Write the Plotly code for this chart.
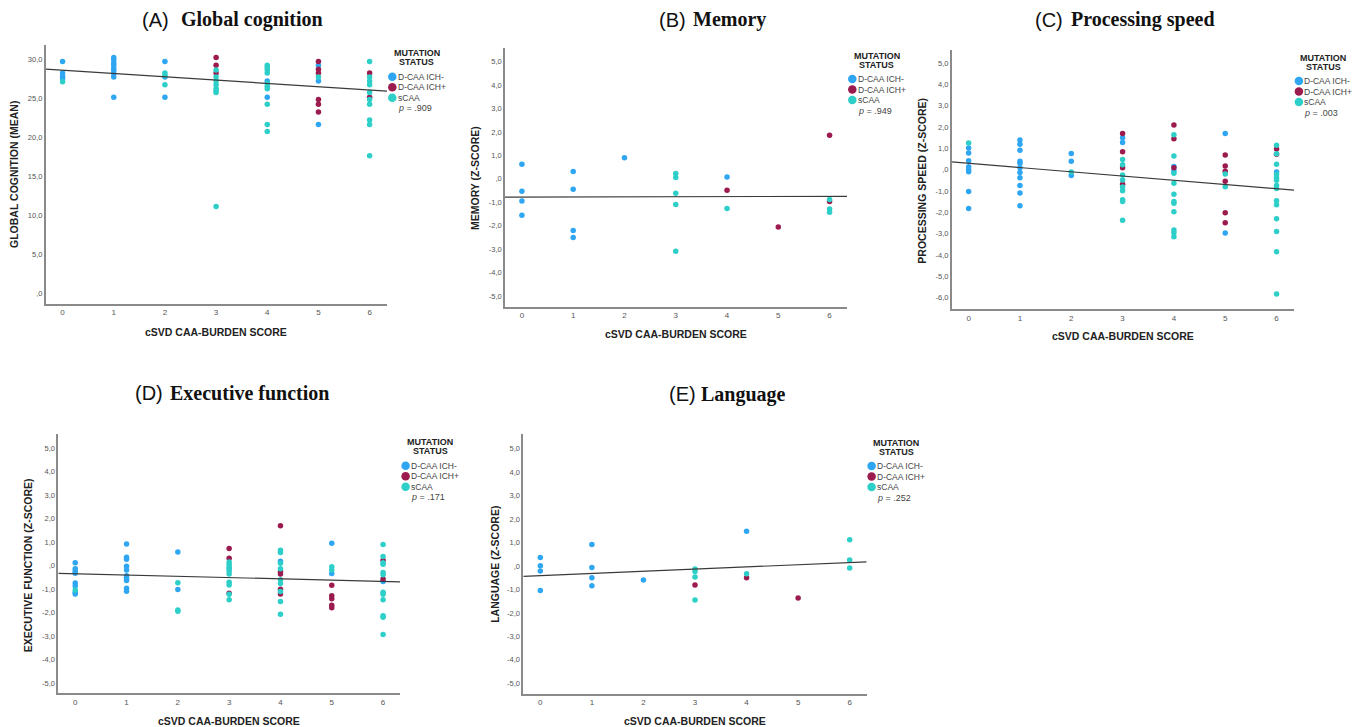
import plotly.graph_objects as go

W, H = 1362, 727

GROUPS = ["D-CAA ICH-", "D-CAA ICH+", "sCAA"]
COLORS = ["#2EA6F2", "#9B1B4F", "#2DCFC8"]
X_TICKS = [0, 1, 2, 3, 4, 5, 6]

# ---------------- Panel A: Global cognition ----------------
A_neg_x = [0, 0, 0, 0, 1, 1, 1, 1, 1, 1, 1, 1, 1, 2, 2, 2, 4, 4, 5, 5, 5]
A_neg_y = [29.7, 28.2, 27.8, 27.5, 30.2, 29.9, 29.5, 29.2, 28.8, 28.5, 28.1, 27.7, 25.1,
           29.7, 27.7, 25.1, 27.2, 25.1, 29.2, 27.2, 21.6]
A_pos_x = [3, 3, 3, 5, 5, 5, 5, 5, 5, 6, 6]
A_pos_y = [30.2, 29.2, 28.2, 29.7, 28.7, 28.2, 24.8, 24.2, 23.2, 28.2, 25.1]
A_scaa_x = [0, 2, 2, 2, 3, 3, 3, 3, 3, 3, 3, 3, 4, 4, 4, 4, 4, 4, 4, 4, 4, 4, 5,
            6, 6, 6, 6, 6, 6, 6, 6, 6, 6]
A_scaa_y = [27.1, 28.2, 27.9, 26.7, 28.6, 27.7, 27.2, 26.7, 26.2, 25.9, 25.7, 11.1,
            29.2, 28.9, 28.6, 28.2, 26.9, 26.5, 26.2, 24.2, 21.6, 20.7, 27.7,
            29.7, 27.7, 27.2, 26.7, 25.7, 24.8, 24.2, 22.2, 21.6, 17.6]
A_fit = (28.56, -0.42)
A_p = ".909"

# ---------------- Panel B: Memory ----------------
B_neg_x = [0, 0, 0, 0, 1, 1, 1, 1, 2, 4]
B_neg_y = [0.62, -0.53, -0.95, -1.56, 0.31, -0.45, -2.21, -2.51, 0.90, 0.08]
B_pos_x = [4, 5, 6, 6]
B_pos_y = [-0.49, -2.06, 1.86, -0.97]
B_scaa_x = [3, 3, 3, 3, 3, 4, 6, 6, 6]
B_scaa_y = [0.22, 0.05, -0.62, -1.10, -3.09, -1.27, -0.89, -1.29, -1.43]
B_fit = (-0.78, 0.005)
B_p = ".949"

# ---------------- Panel C: Processing speed ----------------
C_neg_x = [0, 0, 0, 0, 0, 0, 0, 0, 1, 1, 1, 1, 1, 1, 1, 1, 1, 1, 1,
           2, 2, 2, 3, 3, 4, 4, 5, 5, 6]
C_neg_y = [1.02, 0.79, 0.43, 0.15, 0.02, -0.09, -1.02, -1.81,
           1.40, 1.20, 0.92, 0.40, 0.31, 0.10, -0.13, -0.37, -0.73, -1.09, -1.68,
           0.77, 0.40, -0.27, 1.51, 1.28, 0.16, -0.05, 1.71, -2.96, -0.10]
C_pos_x = [3, 3, 3, 3, 4, 4, 4, 5, 5, 5, 5, 5, 5, 6, 6]
C_pos_y = [1.70, 0.85, 0.10, -0.68, 2.10, 1.46, 0.10, 0.70, 0.18, -0.07, -0.54,
           -2.01, -2.48, 0.98, 0.73]
C_scaa_x = [0, 2, 3, 3, 3, 3, 3, 3, 3, 3, 3, 4, 4, 4, 4, 4, 4, 4, 4, 4, 4, 4,
            5, 5, 6, 6, 6, 6, 6, 6, 6, 6, 6, 6, 6, 6, 6, 6]
C_scaa_y = [1.26, -0.10, 0.48, 0.24, -0.24, -0.48, -0.81, -0.98, -1.40, -1.48, -2.36,
            1.65, 0.65, -0.16, -0.63, -1.15, -1.49, -1.57, -1.96, -2.82, -2.95, -3.14,
            -0.20, -0.79, 1.15, 0.76, 0.26, -0.21, -0.37, -0.49, -0.73, -0.88, -1.45,
            -1.64, -2.29, -2.89, -3.84, -5.82]
C_fit = (0.305, -0.198)
C_p = ".003"

# ---------------- Panel D: Executive function ----------------
D_neg_x = [0, 0, 0, 0, 0, 0, 0, 0, 1, 1, 1, 1, 1, 1, 1, 1, 1, 1, 2, 2, 3, 4, 5, 5, 6]
D_neg_y = [0.13, -0.13, -0.23, -0.32, -0.73, -0.86, -1.14, -1.20,
           0.93, 0.36, 0.28, -0.02, -0.18, -0.43, -0.53, -0.63, -0.96, -1.09,
           0.59, -1.01, -0.13, 0.19, 0.96, -0.33, -0.67]
D_pos_x = [3, 3, 3, 4, 4, 4, 4, 4, 5, 5, 5, 5, 5, 6, 6]
D_pos_y = [0.74, 0.32, -1.17, 1.70, -0.25, -0.35, -1.00, -1.20,
           -0.83, -1.28, -1.40, -1.68, -1.79, 0.23, -0.56]
D_scaa_x = [0, 2, 2, 2, 3, 3, 3, 3, 3, 3, 3, 3, 3, 4, 4, 4, 4, 4, 4, 4, 4, 4,
            5, 5, 6, 6, 6, 6, 6, 6, 6, 6, 6, 6, 6, 6]
D_scaa_y = [-1.03, -0.72, -1.88, -1.94, 0.16, 0.05, -0.06, -0.22, -0.35, -0.70, -0.82,
            -1.21, -1.45, 0.66, 0.56, 0.11, -0.13, -0.60, -0.76, -1.10, -1.52, -2.06,
            -0.04, -0.18, 0.91, 0.39, 0.13, 0.06, -0.29, -0.38, -1.13, -1.21, -1.45,
            -2.13, -2.19, -2.93]
D_fit = (-0.338, -0.055)
D_p = ".171"

# ---------------- Panel E: Language ----------------
E_neg_x = [0, 0, 0, 0, 1, 1, 1, 1, 2, 4]
E_neg_y = [0.36, 0.01, -0.21, -1.04, 0.92, -0.06, -0.50, -0.84, -0.60, 1.48]
E_pos_x = [3, 4, 5]
E_pos_y = [-0.81, -0.50, -1.36]
E_scaa_x = [3, 3, 3, 3, 4, 6, 6, 6]
E_scaa_y = [-0.13, -0.23, -0.47, -1.45, -0.33, 1.12, 0.26, -0.09]
E_fit = (-0.41, 0.093)
E_p = ".252"

# ---------------- layout description (pixel positions) ----------------
SANS = "Liberation Sans, Arial, sans-serif"
SERIF = "Liberation Serif, Times New Roman, serif"

panels = [
    dict(tag="(A)", name="Global cognition", ytitle="GLOBAL COGNITION (MEAN)",
         data=[(A_neg_x, A_neg_y), (A_pos_x, A_pos_y), (A_scaa_x, A_scaa_y)],
         fit=A_fit, p=A_p,
         box=(45.7, 387, 45, 304), xr=(-0.33, 6.34), yr=(-1.4, 31.8),
         yticks=[0, 5, 10, 15, 20, 25, 30],
         tag_x=140, name_x=179, title_y=20,
         ytitle_pos=(14, 175), xtitle_pos=(216, 332),
         leg=(416.7, 53.3)),
    dict(tag="(B)", name="Memory", ytitle="MEMORY (Z-SCORE)",
         data=[(B_neg_x, B_neg_y), (B_pos_x, B_pos_y), (B_scaa_x, B_scaa_y)],
         fit=B_fit, p=B_p,
         box=(505, 847, 48, 306.7), xr=(-0.33, 6.34), yr=(-5.46, 5.58),
         yticks=[-5, -4, -3, -2, -1, 0, 1, 2, 3, 4, 5],
         tag_x=656.7, name_x=690.7, title_y=20,
         ytitle_pos=(475, 178), xtitle_pos=(676, 334),
         leg=(876.7, 55.7)),
    dict(tag="(C)", name="Processing speed", ytitle="PROCESSING SPEED (Z-SCORE)",
         data=[(C_neg_x, C_neg_y), (C_pos_x, C_pos_y), (C_scaa_x, C_scaa_y)],
         fit=C_fit, p=C_p,
         box=(951.7, 1294, 50, 309.3), xr=(-0.33, 6.34), yr=(-6.54, 5.62),
         yticks=[-6, -5, -4, -3, -2, -1, 0, 1, 2, 3, 4, 5],
         tag_x=1033.3, name_x=1069.3, title_y=20,
         ytitle_pos=(921.7, 181), xtitle_pos=(1123, 336),
         leg=(1323.3, 57.7)),
    dict(tag="(D)", name="Executive function", ytitle="EXECUTIVE FUNCTION (Z-SCORE)",
         data=[(D_neg_x, D_neg_y), (D_pos_x, D_pos_y), (D_scaa_x, D_scaa_y)],
         fit=D_fit, p=D_p,
         box=(58.3, 400, 434, 693.3), xr=(-0.33, 6.33), yr=(-5.43, 5.61),
         yticks=[-5, -4, -3, -2, -1, 0, 1, 2, 3, 4, 5],
         tag_x=133.3, name_x=167.7, title_y=393,
         ytitle_pos=(28.3, 565), xtitle_pos=(229, 720.7),
         leg=(430, 442.3)),
    dict(tag="(E)", name="Language", ytitle="LANGUAGE (Z-SCORE)",
         data=[(E_neg_x, E_neg_y), (E_pos_x, E_pos_y), (E_scaa_x, E_scaa_y)],
         fit=E_fit, p=E_p,
         box=(523.3, 866.7, 434, 694), xr=(-0.33, 6.33), yr=(-5.46, 5.63),
         yticks=[-5, -4, -3, -2, -1, 0, 1, 2, 3, 4, 5],
         tag_x=666.7, name_x=699, title_y=394,
         ytitle_pos=(494.3, 564.5), xtitle_pos=(695.3, 721),
         leg=(896, 442.7)),
]


def fx(x):
    return x / W


def fy(y):
    return 1 - y / H


def fmt(v):
    s = f"{v:.1f}".replace(".", ",")
    if s.startswith("0,"):
        s = s[1:]
    return s


fig = go.Figure()
annotations = []
layout = dict(
    width=W, height=H, autosize=False,
    margin=dict(l=0, r=0, t=0, b=0),
    paper_bgcolor="white", plot_bgcolor="rgba(0,0,0,0)",
    showlegend=False,
    font=dict(family=SANS, color="#333333"),
)

# full-page overlay axis (pixel units) used only for the legend glyphs
layout["xaxis6"] = dict(domain=[0, 1], range=[0, W], visible=False, fixedrange=True)
layout["yaxis6"] = dict(domain=[0, 1], range=[H, 0], visible=False, fixedrange=True,
                        anchor="x6")
leg_mx, leg_my, leg_mc = [], [], []

for i, pnl in enumerate(panels):
    n = "" if i == 0 else str(i + 1)
    xa, ya = "x" + n, "y" + n
    l, r, t, b = pnl["box"]
    layout["xaxis" + n] = dict(
        domain=[fx(l), fx(r)], range=list(pnl["xr"]), anchor=ya,
        tickmode="array", tickvals=X_TICKS, ticktext=[str(v) for v in X_TICKS],
        showgrid=False, zeroline=False, showline=True, linecolor="#8a8a8a", linewidth=1.5,
        ticks="", tickfont=dict(size=8, color="#555555", family=SANS),
    )
    layout["yaxis" + n] = dict(
        domain=[fy(b), fy(t)], range=list(pnl["yr"]), anchor=xa,
        tickmode="array", tickvals=pnl["yticks"], ticktext=[fmt(v) for v in pnl["yticks"]],
        showgrid=False, zeroline=False, showline=True, linecolor="#8a8a8a", linewidth=1.5,
        ticks="", tickfont=dict(size=7.5, color="#555555", family=SANS),
    )
    for (xs, ys), g, c in zip(pnl["data"], GROUPS, COLORS):
        fig.add_trace(go.Scatter(
            x=xs, y=ys, mode="markers", name=g, xaxis=xa, yaxis=ya,
            marker=dict(color=c, size=5.5, line=dict(width=0)),
            hoverinfo="x+y+name",
        ))
    b0, b1 = pnl["fit"]
    x0, x1 = pnl["xr"]
    fig.add_trace(go.Scatter(
        x=[x0, x1], y=[b0 + b1 * x0, b0 + b1 * x1], mode="lines", xaxis=xa, yaxis=ya,
        line=dict(color="#3a3a3a", width=1.2), hoverinfo="skip",
    ))

    # panel title
    annotations.append(dict(
        x=fx(pnl["tag_x"]), y=fy(pnl["title_y"]), xref="paper", yref="paper",
        xanchor="left", yanchor="middle", showarrow=False, text=pnl["tag"],
        font=dict(family=SANS, size=20, color="#111111")))
    annotations.append(dict(
        x=fx(pnl["name_x"]), y=fy(pnl["title_y"]), xref="paper", yref="paper",
        xanchor="left", yanchor="middle", showarrow=False, text="<b>" + pnl["name"] + "</b>",
        font=dict(family=SERIF, size=20, color="#111111")))
    # axis titles
    yx, yy = pnl["ytitle_pos"]
    annotations.append(dict(
        x=fx(yx), y=fy(yy), xref="paper", yref="paper", xanchor="center", yanchor="middle",
        showarrow=False, textangle=-90, text="<b>" + pnl["ytitle"] + "</b>",
        font=dict(family=SANS, size=10.5, color="#222222")))
    xx, xy = pnl["xtitle_pos"]
    annotations.append(dict(
        x=fx(xx), y=fy(xy), xref="paper", yref="paper", xanchor="center", yanchor="middle",
        showarrow=False, text="<b>cSVD CAA-BURDEN SCORE</b>",
        font=dict(family=SANS, size=10.5, color="#222222")))
    # legend block
    cx, cy = pnl["leg"]
    for k, txt in enumerate(["MUTATION", "STATUS"]):
        annotations.append(dict(
            x=fx(cx), y=fy(cy + 9 * k), xref="paper", yref="paper",
            xanchor="center", yanchor="middle", showarrow=False, text="<b>" + txt + "</b>",
            font=dict(family=SANS, size=9, color="#222222")))
    for k, (g, c) in enumerate(zip(GROUPS, COLORS)):
        iy = cy + 23.4 + 10.5 * k
        leg_mx.append(cx - 24.4)
        leg_my.append(iy)
        leg_mc.append(c)
        annotations.append(dict(
            x=fx(cx - 21), y=fy(iy), xref="paper", yref="paper",
            xanchor="left", yanchor="middle", showarrow=False, text=g,
            font=dict(family=SANS, size=8.5, color="#444444")))
    annotations.append(dict(
        x=fx(cx - 21), y=fy(cy + 55), xref="paper", yref="paper",
        xanchor="left", yanchor="middle", showarrow=False,
        text="<i>p</i> = " + pnl["p"],
        font=dict(family=SANS, size=9, color="#444444")))

fig.add_trace(go.Scatter(
    x=leg_mx, y=leg_my, mode="markers", xaxis="x6", yaxis="y6",
    marker=dict(color=leg_mc, size=8.5, line=dict(width=0)), hoverinfo="skip",
))

layout["annotations"] = annotations
fig.update_layout(**layout)

fig.write_html("out.html", config={"displayModeBar": False},
               post_script="document.body.style.margin='0';")
